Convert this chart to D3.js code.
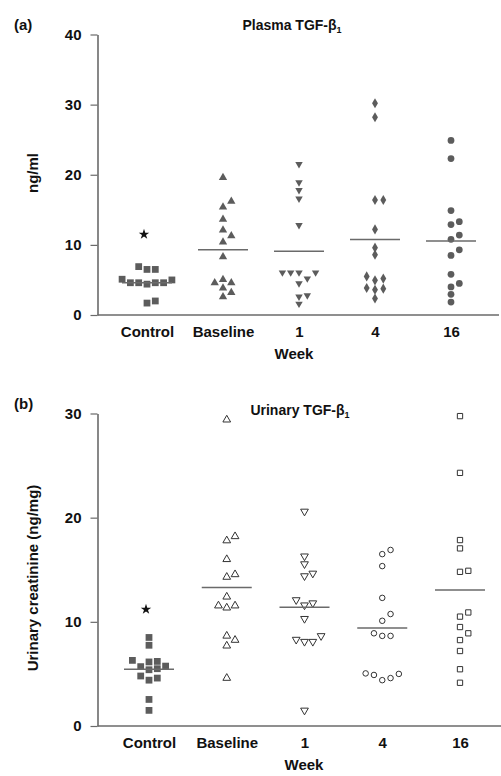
<!DOCTYPE html>
<html>
<head>
<meta charset="utf-8">
<script src="https://cdn.jsdelivr.net/npm/d3@7"></script>
<style>
  body { margin: 0; background: #fff; }
  text { font-family: "Liberation Sans", Arial, sans-serif; font-weight: bold; fill: #111; }
</style>
</head>
<body>
<div class="chart"></div>
<script>
// groups on the x axis
const categories = ["Control", "Baseline", "1", "4", "16"];

// (a) plasma TGF-b1, ng/ml
const plasmaControl  = [6.9, 6.5, 6.5, 5.1, 5.0, 5.1, 5.2, 4.6, 4.6, 4.4, 4.6, 4.6, 1.7, 2.0];
const plasmaBaseline = [19.6, 16.2, 15.4, 13.65, 12.1, 11.3, 10.4, 8.3, 5.05, 4.6, 4.6, 3.85, 3.2, 2.6];
const plasmaWeek1    = [21.5, 18.9, 17.8, 16.6, 12.8, 6.05, 6.05, 6.05, 6.05, 5.2, 4.5, 2.8, 2.6, 1.6];
const plasmaWeek4    = [30.2, 28.2, 16.4, 16.4, 12.2, 9.6, 8.6, 5.5, 4.95, 5.2, 3.75, 3.6, 3.85, 2.35];
const plasmaWeek16   = [24.9, 22.3, 14.9, 13.3, 12.9, 11.4, 10.8, 9.3, 8.5, 5.8, 4.5, 4.0, 2.95, 1.85];
const plasmaMeans    = [4.6, 9.3, 9.1, 10.75, 10.55];
const plasmaStar     = 11.5;
const plasmaTicks    = [0, 10, 20, 30, 40];

// (b) urinary TGF-b1, ng/mg urinary creatinine
const urinaryControl  = [8.5, 7.75, 6.2, 6.3, 5.75, 6.15, 5.5, 5.4, 5.7, 4.8, 4.4, 4.6, 2.55, 1.5];
const urinaryBaseline = [29.4, 17.8, 18.2, 16.0, 14.3, 14.55, 12.4, 11.55, 11.35, 11.55, 8.25, 8.65, 7.7, 4.6];
const urinaryWeek1    = [20.6, 16.3, 15.55, 14.4, 14.65, 11.8, 11.6, 12.1, 10.3, 8.65, 8.1, 8.1, 8.3, 1.5];
const urinaryWeek4    = [16.9, 16.5, 15.35, 12.3, 10.1, 10.75, 8.65, 8.65, 8.9, 5.05, 4.9, 4.4, 4.6, 5.0];
const urinaryWeek16   = [29.75, 24.3, 17.85, 17.05, 14.8, 14.9, 10.9, 10.5, 9.5, 8.9, 8.25, 7.2, 5.45, 4.15];
const urinaryMeans    = [5.45, 13.3, 11.4, 9.4, 13.05];
const urinaryStar     = 11.2;
const urinaryTicks    = [0, 10, 20, 30];

const width = 501;
const height = 776;
const grey = "#5c5c5c";
const axisGrey = "#6a6a6a";

const svg = d3.select(".chart")
    .append("svg")
    .attr("width", width)
    .attr("height", height);

// simple dodge: put each point in the first free column near the centre
function dodge(values, y, step, gap) {
    const order = [0, 1, -1, 2, -2, 3, -3];
    const placed = [];
    values.slice().sort((a, b) => a - b).forEach(v => {
        const py = y(v);
        for (const s of order) {
            if (!placed.some(p => p.slot === s && Math.abs(p.y - py) < gap)) {
                placed.push({ value: v, y: py, slot: s, dx: s * step });
                break;
            }
        }
    });
    return placed;
}

function drawPanel(cfg) {
    const g = svg.append("g");

    const y = d3.scaleLinear()
        .domain([0, d3.max(cfg.ticks)])
        .range([cfg.bottom, cfg.top]);
    const x = d3.scalePoint()
        .domain(categories)
        .range(cfg.xRange);

    // y axis
    const yAxis = g.append("g")
        .attr("transform", `translate(${cfg.left},0)`)
        .call(d3.axisLeft(y).tickValues(cfg.ticks).tickSize(7).tickPadding(9).tickSizeOuter(0));
    yAxis.select(".domain").attr("stroke", axisGrey).attr("stroke-width", 1.6);
    yAxis.selectAll(".tick line").attr("stroke", axisGrey).attr("stroke-width", 1.2);
    yAxis.selectAll(".tick text")
        .attr("font-size", 15)
        .attr("font-family", "Liberation Sans, Arial, sans-serif")
        .attr("font-weight", "bold")
        .attr("fill", "#111");

    // x axis (no ticks)
    const xAxis = g.append("g")
        .attr("transform", `translate(0,${cfg.bottom})`)
        .call(d3.axisBottom(x).tickSize(0).tickPadding(11));
    xAxis.select(".domain")
        .attr("d", `M${cfg.left},0H${cfg.right}`)
        .attr("stroke", axisGrey).attr("stroke-width", 1.6);
    xAxis.selectAll(".tick text")
        .attr("font-size", 15)
        .attr("font-family", "Liberation Sans, Arial, sans-serif")
        .attr("font-weight", "bold")
        .attr("fill", "#111");

    // panel letter
    g.append("text")
        .attr("x", 14).attr("y", cfg.top - 5)
        .attr("font-size", 15)
        .text(cfg.letter);

    // title with subscript 1
    const title = g.append("text")
        .attr("x", cfg.titleX).attr("y", cfg.titleY)
        .attr("text-anchor", "middle")
        .attr("font-size", 14);
    title.append("tspan").text(cfg.title);
    title.append("tspan").attr("font-size", 9).attr("dy", 3).text("1");

    // axis titles
    g.append("text")
        .attr("transform", `translate(${cfg.yLabelX},${cfg.yLabelY}) rotate(-90)`)
        .attr("text-anchor", "middle")
        .attr("font-size", 15)
        .text(cfg.yLabel);
    g.append("text")
        .attr("x", cfg.weekX).attr("y", cfg.bottom + 44)
        .attr("text-anchor", "middle")
        .attr("font-size", 15)
        .text("Week");

    // dots
    cfg.groups.forEach((vals, i) => {
        const m = cfg.markers[i];
        const pts = dodge(vals, y, 8.3, 7);
        g.append("g").selectAll("path")
            .data(pts)
            .enter()
            .append("path")
            .attr("d", d3.symbol().type(m.type).size(m.size))
            .attr("transform", d => `translate(${x(categories[i]) + d.dx},${d.y}) rotate(${m.rotate || 0})`)
            .attr("fill", m.open ? "#fff" : grey)
            .attr("stroke", m.open ? "#333" : "none")
            .attr("stroke-width", m.open ? 1 : 0);
    });

    // mean lines
    g.append("g").selectAll("line")
        .data(cfg.means)
        .enter()
        .append("line")
        .attr("x1", (d, i) => x(categories[i]) - 25)
        .attr("x2", (d, i) => x(categories[i]) + 25)
        .attr("y1", d => y(d))
        .attr("y2", d => y(d))
        .attr("stroke", axisGrey)
        .attr("stroke-width", 1.5);

    // significance star above control
    g.append("path")
        .attr("d", d3.symbol().type(d3.symbolStar).size(34))
        .attr("transform", `translate(${x(categories[0]) - 3},${y(cfg.star)})`)
        .attr("fill", "#111");
}

drawPanel({
    letter: "(a)",
    title: "Plasma TGF-β",
    titleX: 292, titleY: 30,
    yLabel: "ng/ml", yLabelX: 38, yLabelY: 173,
    weekX: 294,
    left: 97.5, right: 499,
    top: 34.5, bottom: 315,
    xRange: [147, 451],
    ticks: plasmaTicks,
    groups: [plasmaControl, plasmaBaseline, plasmaWeek1, plasmaWeek4, plasmaWeek16],
    means: plasmaMeans,
    star: plasmaStar,
    markers: [
        { type: d3.symbolSquare, size: 46 },
        { type: d3.symbolTriangle, size: 30 },
        { type: d3.symbolTriangle, size: 24, rotate: 180 },
        { type: d3.symbolDiamond, size: 30 },
        { type: d3.symbolCircle, size: 36 }
    ]
});

drawPanel({
    letter: "(b)",
    title: "Urinary TGF-β",
    titleX: 300, titleY: 415,
    yLabel: "Urinary creatinine (ng/mg)", yLabelX: 38, yLabelY: 578,
    weekX: 304,
    left: 97.5, right: 501,
    top: 413.5, bottom: 726,
    xRange: [149, 460],
    ticks: urinaryTicks,
    groups: [urinaryControl, urinaryBaseline, urinaryWeek1, urinaryWeek4, urinaryWeek16],
    means: urinaryMeans,
    star: urinaryStar,
    markers: [
        { type: d3.symbolSquare, size: 46 },
        { type: d3.symbolTriangle, size: 26, open: true },
        { type: d3.symbolTriangle, size: 26, rotate: 180, open: true },
        { type: d3.symbolCircle, size: 24, open: true },
        { type: d3.symbolSquare, size: 28, open: true }
    ]
});
</script>
</body>
</html>
